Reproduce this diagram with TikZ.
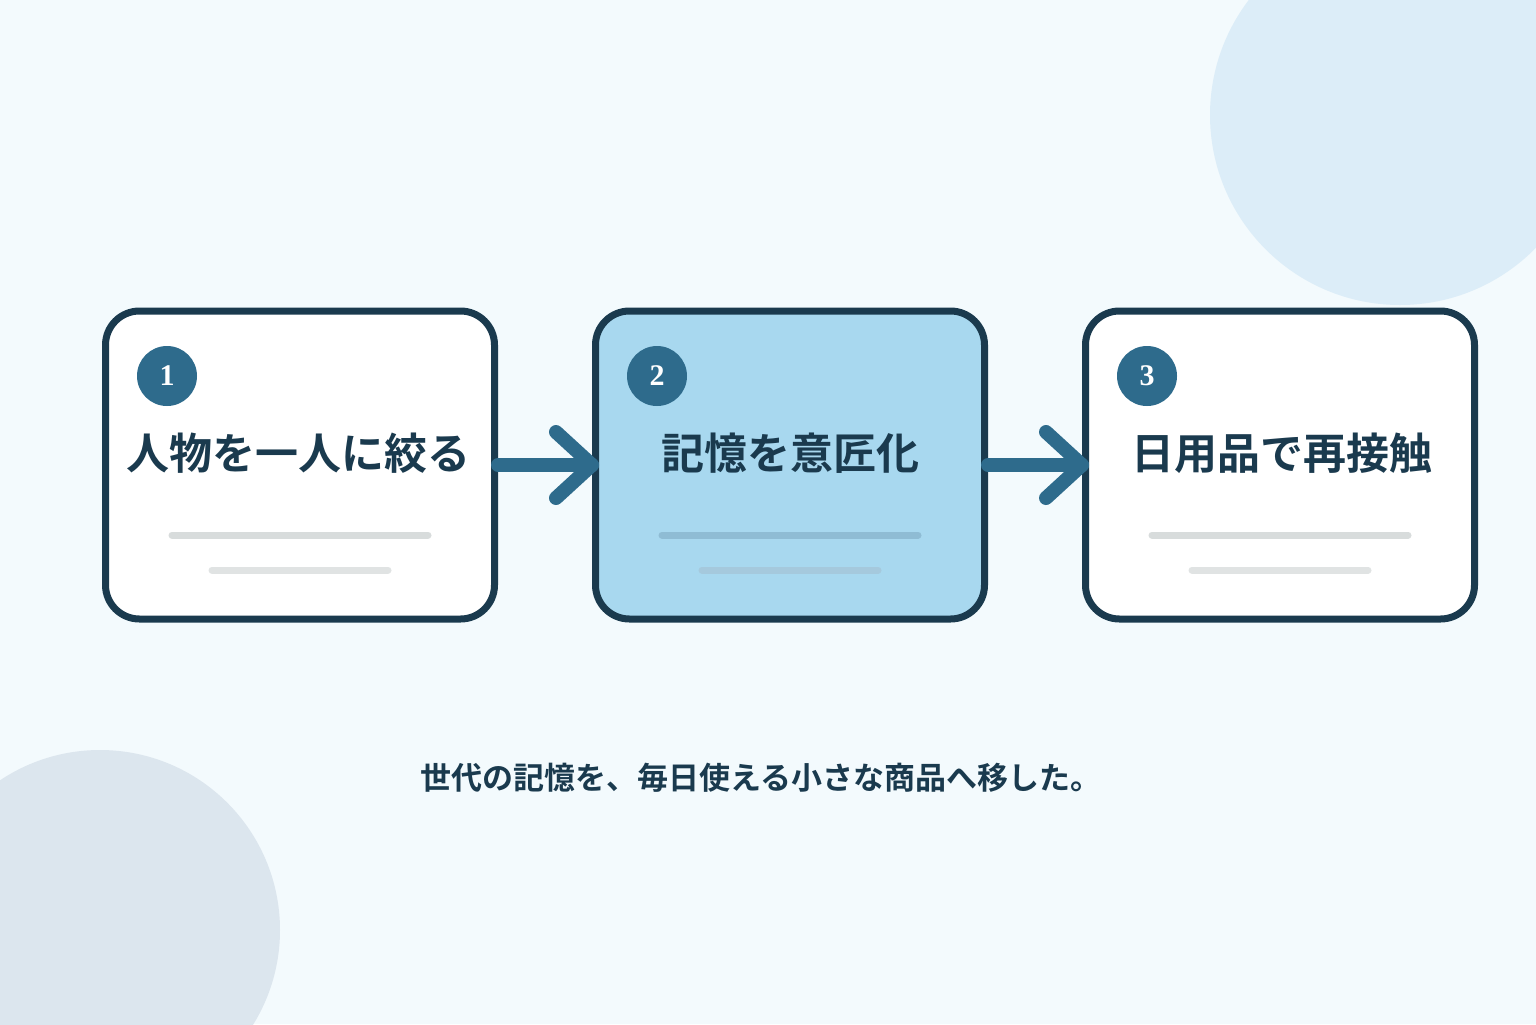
\documentclass[tikz,border=0pt]{standalone}
\usepackage{fontspec}
\newfontfamily\jpsans{Noto Sans CJK JP}
\newfontfamily\jpbold{Noto Sans CJK JP Bold}
\newfontfamily\numfont{Liberation Serif}
\usetikzlibrary{positioning}

\definecolor{bgblue}{HTML}{F3FAFD}
\definecolor{inkdark}{HTML}{1A3A4E}
\definecolor{steel}{HTML}{2E6B8C}
\definecolor{skyfill}{HTML}{A8D8EF}
\definecolor{blobtop}{HTML}{DCEDF8}
\definecolor{blobbot}{HTML}{DCE6EE}

\tikzset{
  stepbox/.style={draw=inkdark, line width=3.5pt, rounded corners=17pt,
    minimum width=194.5pt, minimum height=154pt, fill=white},
  badge/.style={circle, fill=steel, minimum size=30pt, inner sep=0pt,
    text=white, font=\numfont\bfseries\fontsize{15}{15}\selectfont},
  steptitle/.style={text=inkdark, font=\jpbold\fontsize{21.5}{21.5}\selectfont},
  flow/.style={draw=steel, line width=7pt, line cap=round, line join=round},
  bar/.style={line width=3.5pt, line cap=round}
}

\begin{document}
\begin{tikzpicture}[x=0.5pt,y=-0.5pt]
\fill[bgblue] (0,0) rectangle (1536,1024);
\useasboundingbox (0,0) rectangle (1536,1024);

% background blobs
\fill[blobtop] (1400,115) circle (190);
\fill[blobbot] (100,930) circle (180);

% steps
\node[stepbox] (box1) at (300,465) {};
\node[stepbox, fill=skyfill] (box2) at (790,465) {};
\node[stepbox] (box3) at (1280,465) {};

\node[badge] (n1) at (167,376) {1};
\node[badge] (n2) at (657,376) {2};
\node[badge] (n3) at (1147,376) {3};

\node[steptitle] (t1) at (298,453) {人物を一人に絞る};
\node[steptitle] (t2) at (790,453) {記憶を意匠化};
\node[steptitle] (t3) at (1282,453) {日用品で再接触};

% placeholder bars
\foreach \cx/\col in {300/D8DCDC, 790/8FBCD4, 1280/D8DCDC} {
  \definecolor{barcol}{HTML}{\col}
  \draw[bar, barcol] (\cx-128,535) -- (\cx+128,535);
  \draw[bar, barcol!80!white] (\cx-88,570) -- (\cx+88,570);
}

% arrows
\draw[flow] (box1.east) -- (box2.west);
\draw[flow] (box2.west) ++(-36,-33) -- ++(36,33) -- ++(-36,33);
\draw[flow] (box2.east) -- (box3.west);
\draw[flow] (box3.west) ++(-36,-33) -- ++(36,33) -- ++(-36,33);

\node[text=inkdark, font=\jpbold\fontsize{15.5}{15.5}\selectfont] (caption) at (761,778)
  {世代の記憶を、毎日使える小さな商品へ移した。};
\end{tikzpicture}
\end{document}
